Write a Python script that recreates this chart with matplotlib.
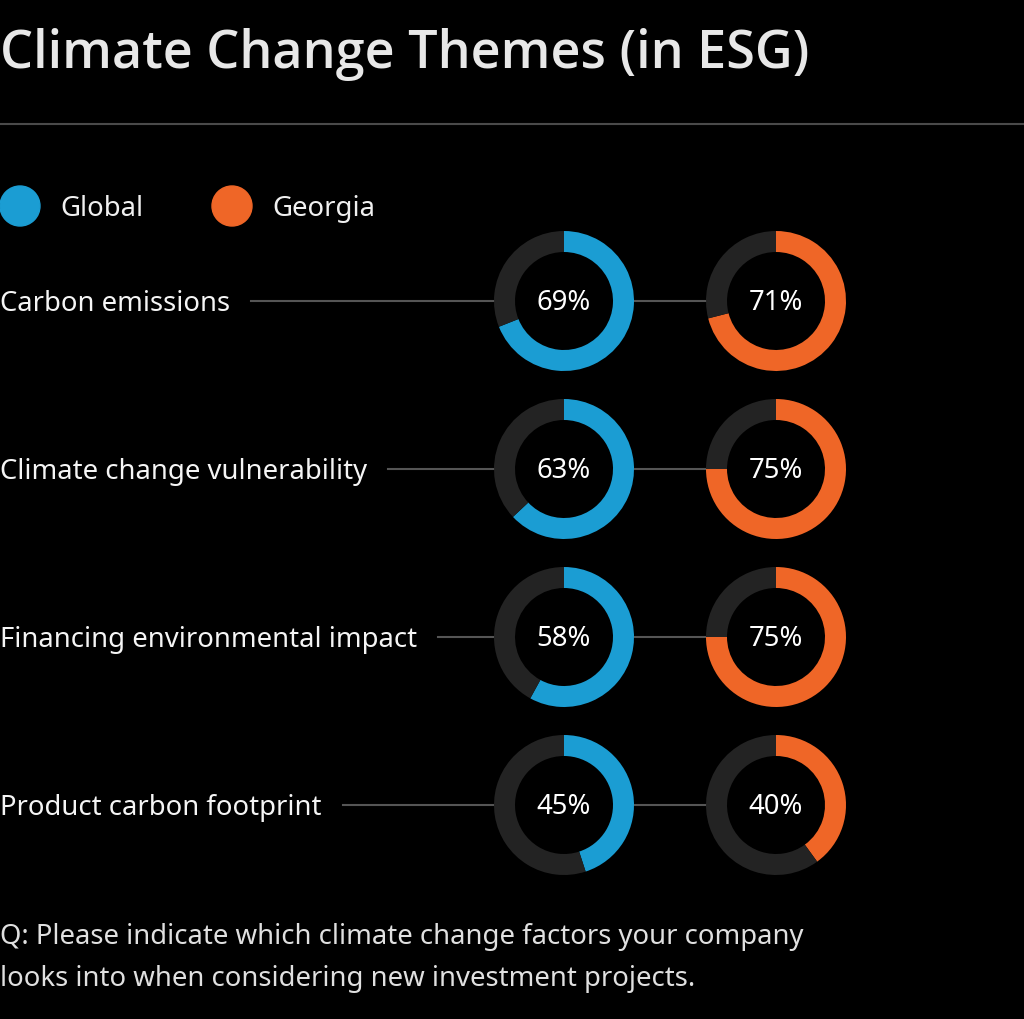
import matplotlib
matplotlib.use("Agg")
import matplotlib.pyplot as plt
from matplotlib.patches import Circle

# data
themes = ["Carbon emissions", "Climate change vulnerability",
          "Financing environmental impact", "Product carbon footprint"]
global_pct = [69, 63, 58, 45]
georgia_pct = [71, 75, 75, 40]
series_names = ["Global", "Georgia"]
series_colors = ["#1b9dd3", "#ef6627"]
track_color = "#232323"

W, H = 1024, 1020
fig = plt.figure(figsize=(W / 100, H / 100), dpi=100, facecolor="black")
plt.rcParams["font.family"] = ["Noto Sans", "DejaVu Sans"]

ax = fig.add_axes([0, 0, 1, 1])
ax.set_xlim(0, W)
ax.set_ylim(H, 0)
ax.axis("off")
ax.set_facecolor("black")

ax.text(0, 68, "Climate Change Themes (in ESG)", fontsize=37.5, fontweight="semibold",
        family=["Open Sans", "DejaVu Sans"],
        color="#e8e8e8", ha="left", va="baseline")
ax.plot([0, W], [125, 125], color="#4a4a4a", lw=1.5)

fs = 19.8

# legend
for i, (name, col) in enumerate(zip(series_names, series_colors)):
    cx = 20 + i * 212
    ax.add_patch(Circle((cx, 207), 20, color=col))
    ax.text(cx + 40, 209, name, fontsize=fs, color="#f0f0f0", va="center", ha="left")

row_y = [302 + 168 * i for i in range(len(themes))]
centers_x = [564, 776]
r_out = 70

fig.canvas.draw()
renderer = fig.canvas.get_renderer()

for i, theme in enumerate(themes):
    y = row_y[i]
    t = ax.text(0, y + 2, theme, fontsize=fs, color="#f5f5f5", va="center", ha="left")
    bb = t.get_window_extent(renderer)
    x_end = ax.transData.inverted().transform((bb.x1, 0))[0]
    ax.plot([x_end + 21, centers_x[0] - r_out], [y, y], color="#555555", lw=1.5, zorder=1)
    ax.plot([centers_x[0] + r_out, centers_x[1] - r_out], [y, y], color="#555555", lw=1.5, zorder=1)

    for j, vals in enumerate([global_pct, georgia_pct]):
        v = vals[i]
        cx = centers_x[j]
        dax = fig.add_axes([(cx - r_out) / W, 1 - (y + r_out) / H, 2 * r_out / W, 2 * r_out / H])
        dax.pie([v, 100 - v], colors=[series_colors[j], track_color], startangle=90,
                counterclock=False, radius=1.0,
                wedgeprops=dict(width=0.3, linewidth=0))
        dax.set_xlim(-1, 1)
        dax.set_ylim(-1, 1)
        dax.set_aspect("equal")
        dax.axis("off")
        dax.text(0, -0.02, f"{v}%", fontsize=fs, color="white", ha="center", va="center")

ax.text(0, 937, "Q: Please indicate which climate change factors your company",
        fontsize=fs, color="#e0e0e0", va="center", ha="left")
ax.text(0, 979, "looks into when considering new investment projects.",
        fontsize=fs, color="#e0e0e0", va="center", ha="left")

fig.savefig("out.png", dpi=100, facecolor="black")
